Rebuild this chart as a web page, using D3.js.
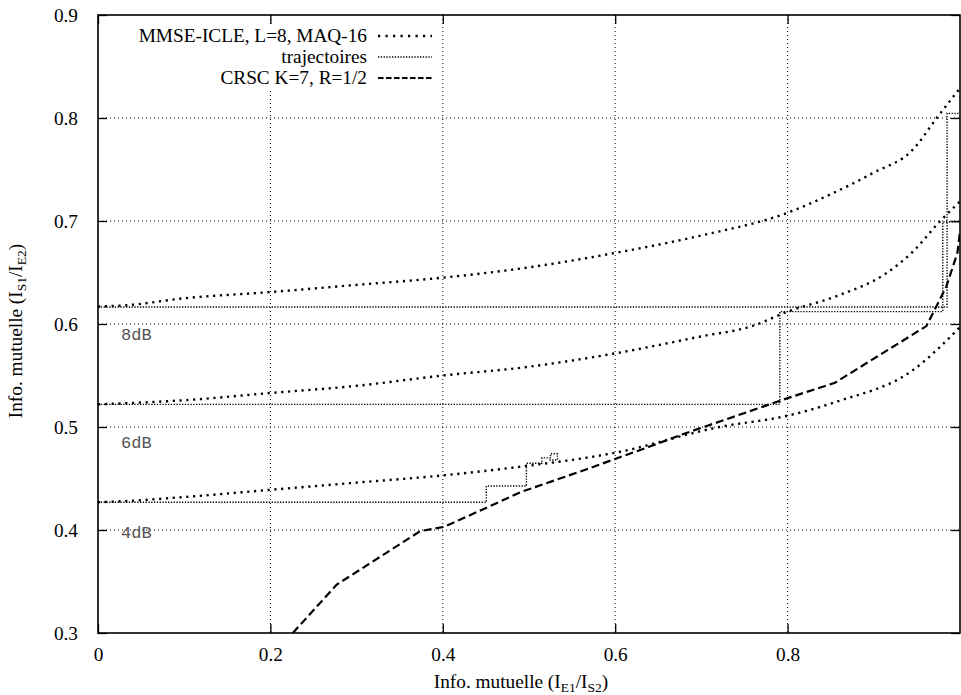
<!DOCTYPE html>
<html><head><meta charset="utf-8">
<script src="https://cdn.jsdelivr.net/npm/d3@7"></script>
<style>body{margin:0;background:#fff}svg{display:block}</style>
</head><body><svg id="c" width="961" height="695"></svg>
<script>
// ---- data ----
const xTicks = [0, 0.2, 0.4, 0.6, 0.8];
const yTicks = [0.3, 0.4, 0.5, 0.6, 0.7, 0.8, 0.9];
const xTickLabels = ["0", "0.2", "0.4", "0.6", "0.8"];
const yTickLabels = ["0.3", "0.4", "0.5", "0.6", "0.7", "0.8", "0.9"];
const mmse8x = [0, 0.03, 0.1, 0.2, 0.3, 0.4, 0.5, 0.6, 0.7, 0.8, 0.85, 0.9, 0.945, 0.973, 1.0];
const mmse8y = [0.617, 0.618, 0.625, 0.631, 0.638, 0.645, 0.655, 0.669, 0.686, 0.708, 0.726, 0.747, 0.769, 0.800, 0.829];
const mmse6x = [0, 0.03, 0.1, 0.2, 0.3, 0.4, 0.495, 0.6, 0.7, 0.759, 0.8, 0.86, 0.914, 0.945, 0.976, 1.0];
const mmse6y = [0.522, 0.523, 0.526, 0.533, 0.540, 0.550, 0.558, 0.5715, 0.588, 0.598, 0.612, 0.628, 0.649, 0.670, 0.699, 0.719];
const mmse4x = [0, 0.03, 0.1, 0.2, 0.3, 0.4, 0.495, 0.6, 0.721, 0.8, 0.857, 0.945, 1.0];
const mmse4y = [0.427, 0.428, 0.432, 0.439, 0.446, 0.453, 0.462, 0.475, 0.500, 0.511, 0.5246, 0.555, 0.597];
const crscX = [0.226, 0.277, 0.374, 0.4015, 0.491, 0.567, 0.6, 0.64, 0.675, 0.8, 0.855, 0.961, 0.984, 0.997, 1.0];
const crscY = [0.300, 0.347, 0.399, 0.403, 0.437, 0.459, 0.469, 0.481, 0.492, 0.528, 0.543, 0.598, 0.636, 0.669, 0.690];
const traj4x = [0, 0.4505, 0.4505, 0.497, 0.497, 0.515, 0.515, 0.525, 0.525, 0.533, 0.533, 0.522];
const traj4y = [0.427, 0.427, 0.4427, 0.4427, 0.4648, 0.4648, 0.470, 0.470, 0.474, 0.474, 0.468, 0.468];
const traj6x = [0, 0.791, 0.791, 0.980, 0.980, 1.0];
const traj6y = [0.522, 0.522, 0.612, 0.612, 0.699, 0.699];
const traj8x = [0, 0.985, 0.985, 1.0];
const traj8y = [0.6165, 0.6165, 0.8045, 0.8045];
const snrLabels = ["8dB", "6dB", "4dB"];
const snrLabelY = [0.590, 0.485, 0.398];
const legendLabels = ["MMSE-ICLE, L=8, MAQ-16", "trajectoires", "CRSC K=7, R=1/2"];

// ---- drawing ----
const svg = d3.select("#c");
const L = 98, R = 960, T = 15, B = 633;
const x = d3.scaleLinear().domain([0, 1]).range([L, R]);
const y = d3.scaleLinear().domain([0.3, 0.9]).range([B, T]);
const serif = "'Liberation Serif','Times New Roman',serif";
const FS = 19.3;

// grid
const g = svg.append("g");
g.selectAll("line.gx").data(xTicks.filter(d => d > 0)).join("line")
  .attr("x1", d => x(d)).attr("x2", d => x(d)).attr("y1", T).attr("y2", B)
  .attr("stroke", "#000").attr("stroke-width", 1).attr("stroke-dasharray", "1,3");
g.selectAll("line.gy").data(yTicks.filter(d => d > 0.3 && d < 0.9)).join("line")
  .attr("x1", L).attr("x2", R).attr("y1", d => y(d)).attr("y2", d => y(d))
  .attr("stroke", "#000").attr("stroke-width", 1).attr("stroke-dasharray", "1,3");

// legend background
svg.append("rect").attr("x", 128).attr("y", 24).attr("width", 308).attr("height", 67).attr("fill", "#fff");

// axes (ticks inside, mirrored)
const axB = d3.axisBottom(x).tickValues(xTicks).tickFormat((d, i) => xTickLabels[i]).tickSizeInner(-9).tickSizeOuter(0).tickPadding(14);
const axL = d3.axisLeft(y).tickValues(yTicks).tickFormat((d, i) => yTickLabels[i]).tickSizeInner(-9).tickSizeOuter(0).tickPadding(20);
const axT = d3.axisTop(x).tickValues(xTicks).tickFormat("").tickSizeInner(-9).tickSizeOuter(0);
const axR = d3.axisRight(y).tickValues(yTicks).tickFormat("").tickSizeInner(-9).tickSizeOuter(0);
function styleAx(sel) {
  sel.attr("font-family", serif).attr("font-size", FS);
  sel.select(".domain").remove();
  sel.selectAll("line").attr("stroke", "#000").attr("stroke-width", 1.3);
  sel.selectAll("text").attr("font-family", serif).attr("font-size", FS).attr("fill", "#000");
}
svg.append("g").attr("transform", `translate(0,${B})`).call(axB).call(styleAx);
svg.append("g").attr("transform", `translate(${L},0)`).call(axL).call(styleAx);
svg.append("g").attr("transform", `translate(0,${T})`).call(axT).call(styleAx);
svg.append("g").attr("transform", `translate(${R},0)`).call(axR).call(styleAx);

// clip
svg.append("clipPath").attr("id", "clip").append("rect").attr("x", L).attr("y", T).attr("width", R - L).attr("height", B - T);
const plot = svg.append("g").attr("clip-path", "url(#clip)");
const lineLin = d3.line().x(d => x(d[0])).y(d => y(d[1]));
const lineMono = d3.line().x(d => x(d[0])).y(d => y(d[1])).curve(d3.curveMonotoneX);
const zip = (a, b) => a.map((v, i) => [v, b[i]]);

// trajectories
[[traj4x, traj4y], [traj6x, traj6y], [traj8x, traj8y]].forEach(([a, b]) => {
  plot.append("path").attr("d", lineLin(zip(a, b))).attr("fill", "none")
    .attr("stroke", "#000").attr("stroke-width", 1.4).attr("stroke-dasharray", "1.3,1.5");
});
// MMSE curves
[[mmse8x, mmse8y], [mmse6x, mmse6y], [mmse4x, mmse4y]].forEach(([a, b]) => {
  plot.append("path").attr("d", lineMono(zip(a, b))).attr("fill", "none")
    .attr("stroke", "#000").attr("stroke-width", 2.4).attr("stroke-dasharray", "2.2,4.6");
});
// CRSC
plot.append("path").attr("d", lineLin(zip(crscX, crscY))).attr("fill", "none")
  .attr("stroke", "#000").attr("stroke-width", 2.2).attr("stroke-dasharray", "8,4");

// border
svg.append("rect").attr("x", L).attr("y", T).attr("width", R - L).attr("height", B - T)
  .attr("fill", "none").attr("stroke", "#000").attr("stroke-width", 1.6);

// SNR labels
svg.selectAll("text.snr").data(snrLabels).join("text")
  .attr("x", 121).attr("y", (d, i) => y(snrLabelY[i]) + 6)
  .attr("font-family", "'Liberation Mono','Courier New',monospace").attr("font-size", 17)
  .attr("fill", "#555").text(d => d);

// legend
const lgY = [36, 57, 78];
legendLabels.forEach((t, i) => {
  svg.append("text").attr("x", 367).attr("y", lgY[i] + 6).attr("text-anchor", "end")
    .attr("font-family", serif).attr("font-size", FS).text(t);
});
svg.append("line").attr("x1", 378).attr("x2", 432).attr("y1", lgY[0]).attr("y2", lgY[0])
  .attr("stroke", "#000").attr("stroke-width", 2.4).attr("stroke-dasharray", "2.2,5.3");
svg.append("line").attr("x1", 378).attr("x2", 432).attr("y1", lgY[1]).attr("y2", lgY[1])
  .attr("stroke", "#000").attr("stroke-width", 1.4).attr("stroke-dasharray", "1.3,1.5");
svg.append("line").attr("x1", 378).attr("x2", 432).attr("y1", lgY[2]).attr("y2", lgY[2])
  .attr("stroke", "#000").attr("stroke-width", 2.2).attr("stroke-dasharray", "5.5,2.5");

// axis titles
const xt = svg.append("text").attr("x", 521).attr("y", 688).attr("text-anchor", "middle")
  .attr("font-family", serif).attr("font-size", FS);
xt.append("tspan").text("Info. mutuelle (I");
xt.append("tspan").attr("font-size", 13.5).attr("dy", 4).text("E1");
xt.append("tspan").attr("dy", -4).text("/I");
xt.append("tspan").attr("font-size", 13.5).attr("dy", 4).text("S2");
xt.append("tspan").attr("dy", -4).text(")");
const yt = svg.append("text").attr("transform", "translate(22,331) rotate(-90)").attr("text-anchor", "middle")
  .attr("font-family", serif).attr("font-size", FS);
yt.append("tspan").text("Info. mutuelle (I");
yt.append("tspan").attr("font-size", 13.5).attr("dy", 4).text("S1");
yt.append("tspan").attr("dy", -4).text("/I");
yt.append("tspan").attr("font-size", 13.5).attr("dy", 4).text("E2");
yt.append("tspan").attr("dy", -4).text(")");
</script></body></html>
